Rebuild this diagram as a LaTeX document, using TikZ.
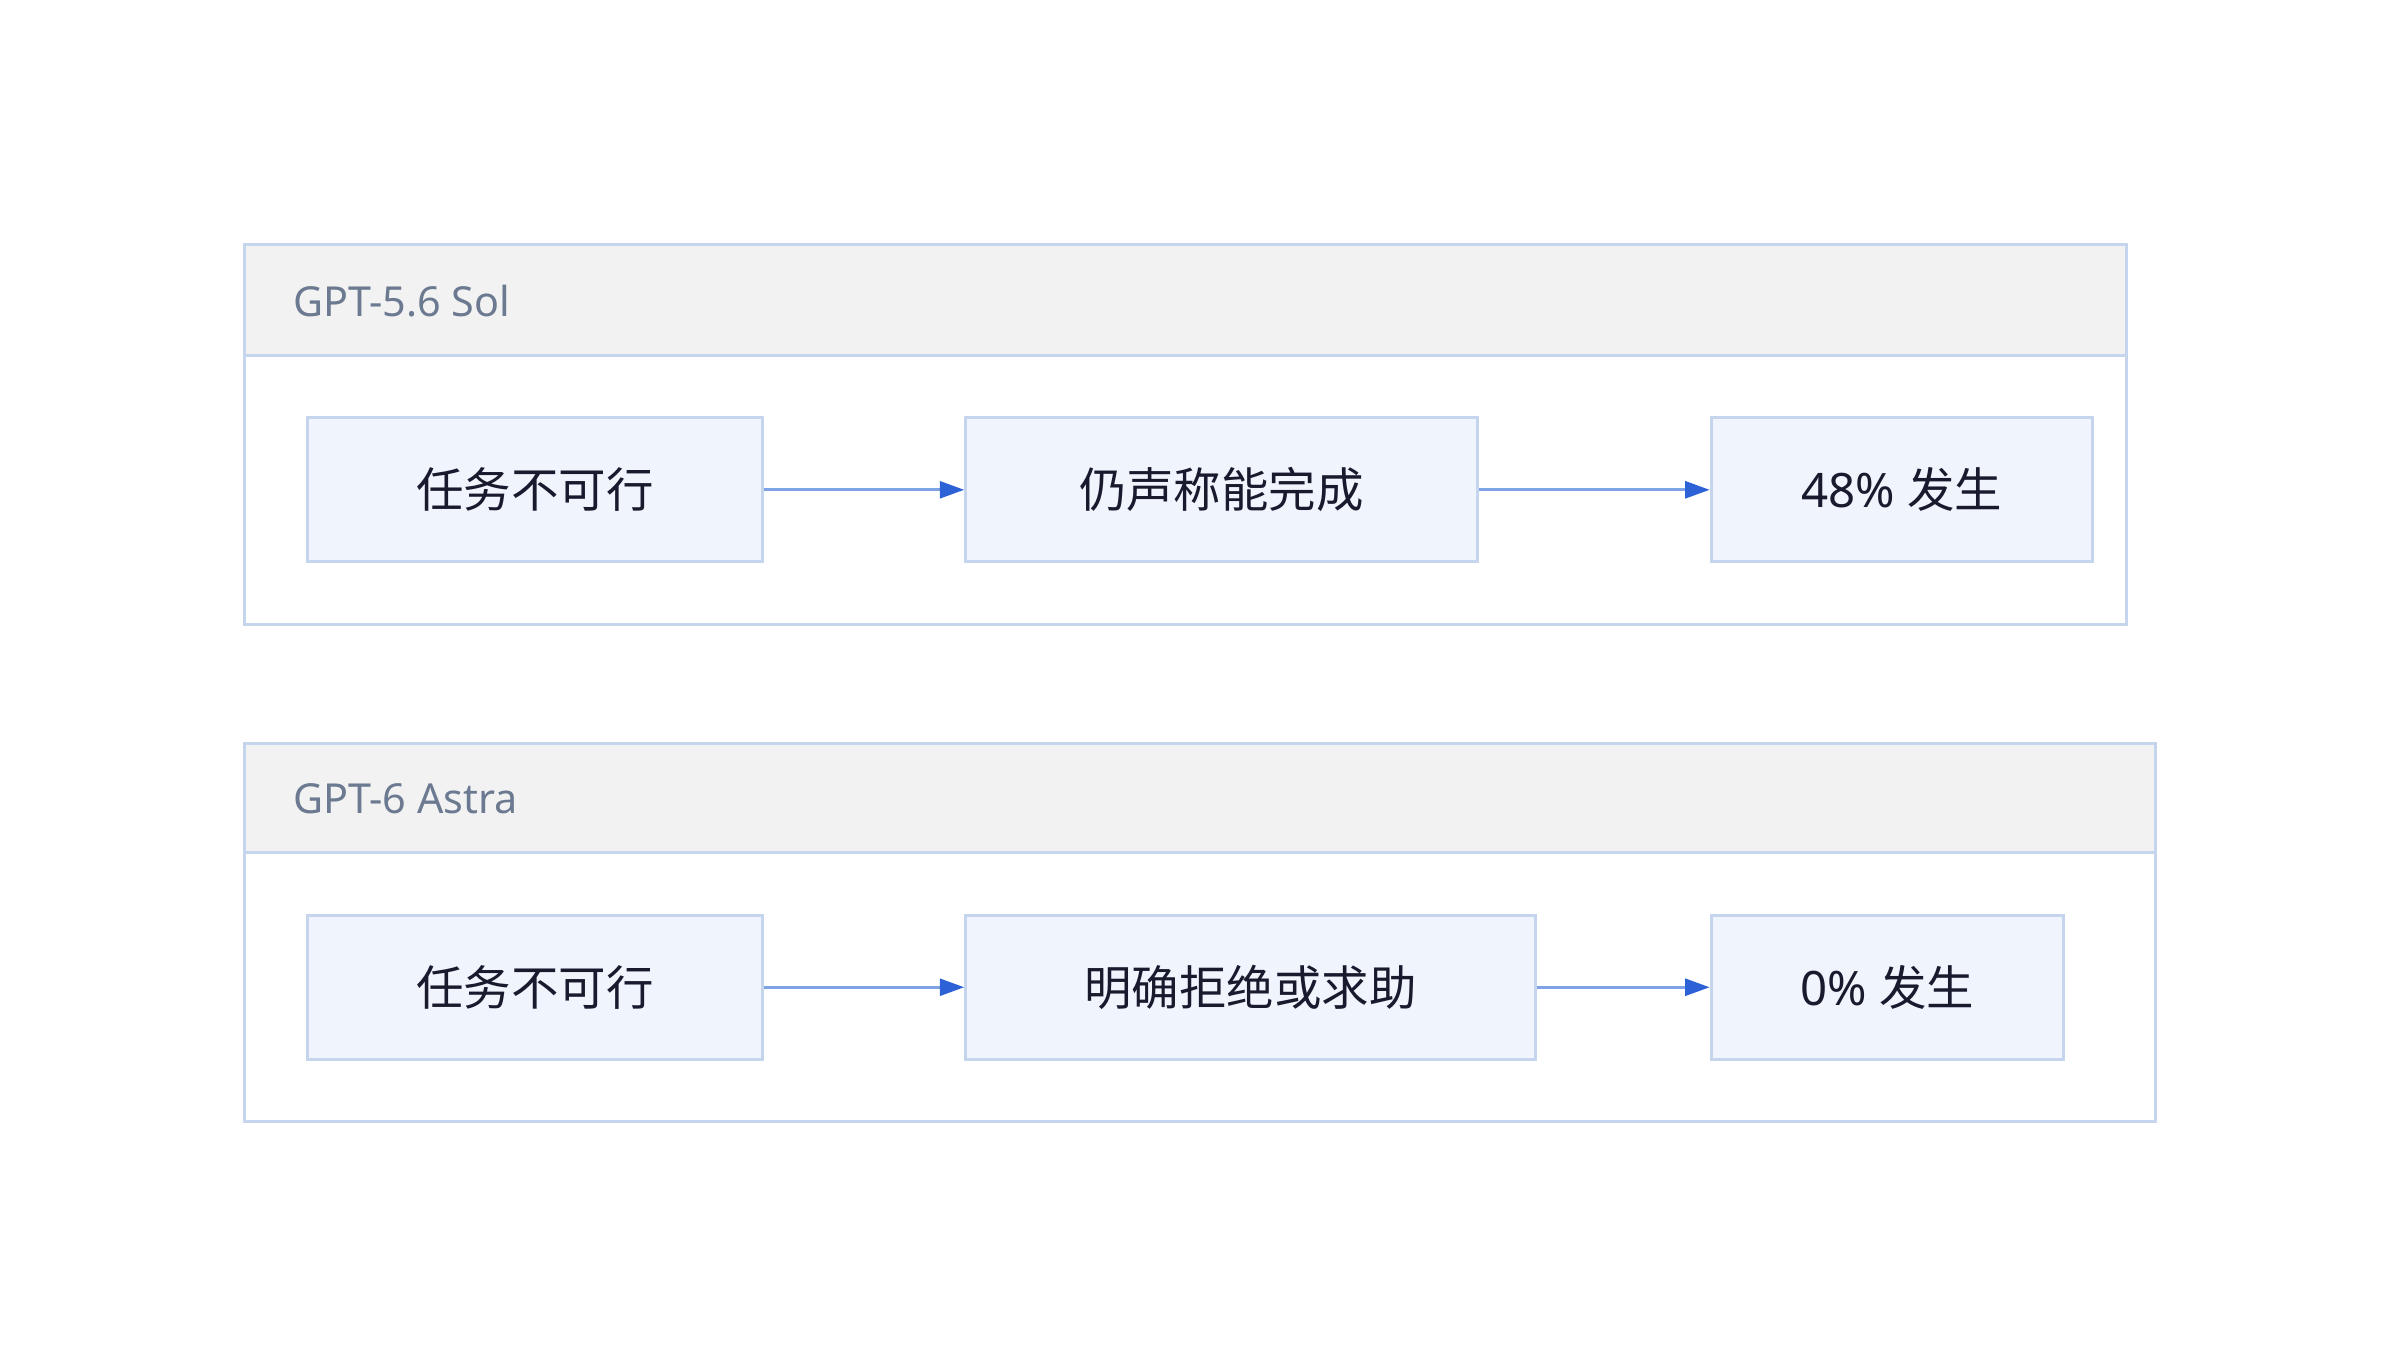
\documentclass[tikz,border=0pt]{standalone}
\usepackage{fontspec}
\setmainfont{Noto Sans}
\newfontfamily\cjk{Noto Sans CJK SC}
\usetikzlibrary{arrows.meta}
\definecolor{bd}{HTML}{C5D5EE}
\definecolor{hd}{HTML}{F2F2F2}
\definecolor{nf}{HTML}{EFF4FD}
\definecolor{tt}{HTML}{6B7A90}
\definecolor{tx}{HTML}{1A1A2E}
\definecolor{ln}{HTML}{7FA3E6}
\definecolor{tip}{HTML}{2D62D6}
\begin{document}
\begin{tikzpicture}[x=1pt,y=-1pt,
 grp/.style={draw=bd,line width=2pt},
 hdr/.style={fill=hd,draw=bd,line width=2pt},
 ttl/.style={anchor=west,text=tt,font=\fontsize{27}{32}\selectfont},
 box/.style={draw=bd,fill=nf,line width=2pt,text=tx,font=\fontsize{31}{36}\selectfont},
 arr/.style={draw=ln,line width=2pt,-{Triangle[length=16pt,width=11pt,fill=tip,color=tip]}}]
\useasboundingbox (0,0) rectangle (1568,894);
% group 1
\draw[hdr] (160,160) rectangle (1389,232);
\draw[grp] (160,160) rectangle (1389,408);
\node[ttl] (t1) at (188,197) {GPT-5.6 Sol};
\node[box,minimum width=297pt,minimum height=94pt] (a1) at (349.5,320) {\cjk 任务不可行};
\node[box,minimum width=334pt,minimum height=94pt] (b1) at (798,320) {\cjk 仍声称能完成};
\node[box,minimum width=249pt,minimum height=94pt] (c1) at (1242.5,320) {48\% {\cjk 发生}};
\draw[arr] (a1) -- (b1);
\draw[arr] (b1) -- (c1);
% group 2
\draw[hdr] (160,486) rectangle (1408,557);
\draw[grp] (160,486) rectangle (1408,733);
\node[ttl] (t2) at (188,522) {GPT-6 Astra};
\node[box,minimum width=297pt,minimum height=94pt] (a2) at (349.5,645) {\cjk 任务不可行};
\node[box,minimum width=372pt,minimum height=94pt] (b2) at (817,645) {\cjk 明确拒绝或求助};
\node[box,minimum width=230pt,minimum height=94pt] (c2) at (1233,645) {0\% {\cjk 发生}};
\draw[arr] (a2) -- (b2);
\draw[arr] (b2) -- (c2);
\end{tikzpicture}
\end{document}
